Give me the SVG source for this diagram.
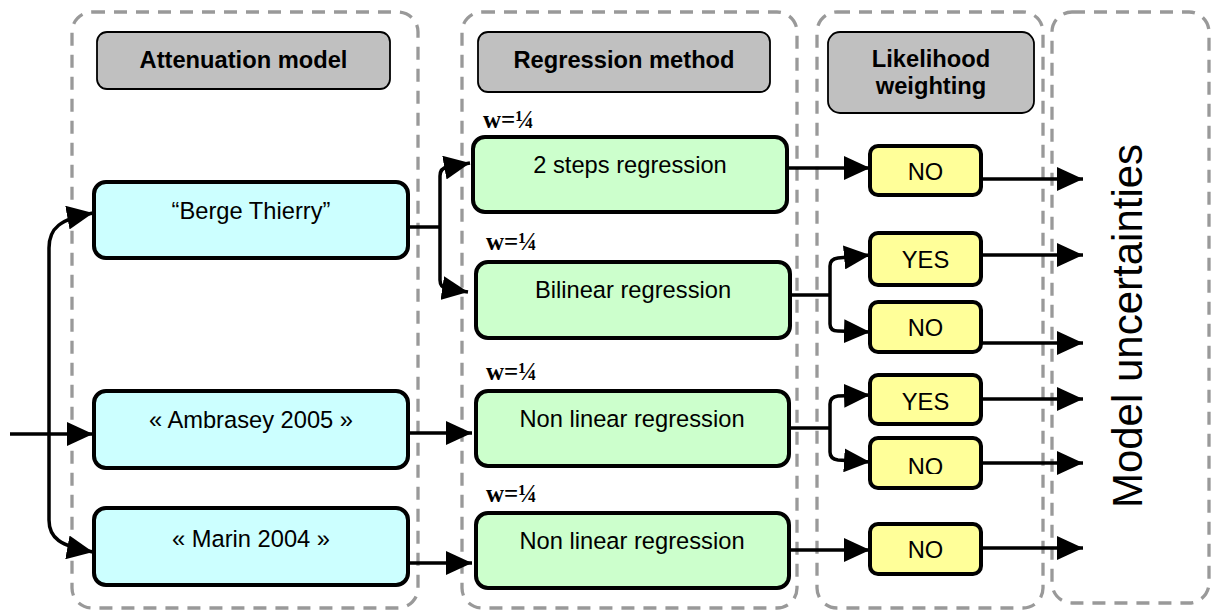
<svg xmlns="http://www.w3.org/2000/svg" width="1211" height="612" viewBox="0 0 1211 612">
<style>
.cont{fill:none;stroke:#999;stroke-width:3.3;stroke-dasharray:13 9}
.hdr{fill:#c0c0c0;stroke:#000;stroke-width:1.8}
.att{fill:#ccffff;stroke:#000;stroke-width:4}
.reg{fill:#ccffcc;stroke:#000;stroke-width:4}
.lik{fill:#ffff99;stroke:#000;stroke-width:4}
.ht{font-family:"Liberation Sans",Arial,sans-serif;font-weight:bold;font-size:23.7px;text-anchor:middle;fill:#000}
.nt{font-family:"Liberation Sans",Arial,sans-serif;font-size:23.7px;text-anchor:middle;fill:#000}
.w{font-family:"Liberation Serif","Times New Roman",serif;font-weight:bold;font-size:25px;fill:#000}
.big{font-family:"Liberation Sans",Arial,sans-serif;font-size:42px;text-anchor:middle;fill:#000}
.c{fill:none;stroke:#000;stroke-width:3.5}
.ca{fill:none;stroke:#000;stroke-width:3.5;marker-end:url(#ah)}
</style>
<defs>
<marker id="ah" markerUnits="userSpaceOnUse" markerWidth="26" markerHeight="24" refX="26" refY="12" orient="auto" viewBox="0 0 26 24">
<path d="M0,0 L26,12 L0,24 z" fill="#000"/>
</marker>
<clipPath id="clipNo3"><rect x="870" y="438" width="112" height="36"/></clipPath>
</defs>
<rect width="1211" height="612" fill="#fff"/>
<g id="containers">
<rect class="cont" x="72" y="12" width="346" height="596" rx="20"/>
<rect class="cont" x="462" y="12" width="335" height="596" rx="20"/>
<rect class="cont" x="817" y="12" width="226" height="596" rx="20"/>
<rect class="cont" x="1052" y="12" width="157" height="591" rx="20"/>
</g>
<g id="connectors">
<path class="ca" d="M10,434 H93"/>
<path class="ca" d="M49,434 V248 C49,228 60,219 93,213"/>
<path class="ca" d="M49,434 V520 C49,538 60,546 93,552"/>
<path class="c" d="M408,227 H440"/>
<path class="ca" d="M440,227 V176 Q440,168 448,167 L470,163"/>
<path class="ca" d="M440,227 V280 Q440,288 448,289 L468,292"/>
<path class="ca" d="M408,433 H472"/>
<path class="ca" d="M408,563 H472"/>
<path class="ca" d="M787,168 H870"/>
<path class="c" d="M790,295 H830"/>
<path class="ca" d="M830,295 V266 Q830,259 838,258 L870,255"/>
<path class="ca" d="M830,295 V324 Q830,331 838,331 L870,332"/>
<path class="c" d="M789,428 H830"/>
<path class="ca" d="M830,428 V404 Q830,397 838,396 L870,395"/>
<path class="ca" d="M830,428 V452 Q830,459 838,460 L870,462"/>
<path class="ca" d="M789,550 H870"/>
<path class="ca" d="M981,179 H1083"/>
<path class="ca" d="M981,255 H1083"/>
<path class="ca" d="M981,343 H1083"/>
<path class="ca" d="M981,399 H1083"/>
<path class="ca" d="M981,463 H1083"/>
<path class="ca" d="M981,548 H1083"/>
</g>
<g id="hdr-attenuation">
<rect class="hdr" x="97" y="32" width="293" height="57" rx="10"/>
<text class="ht" x="243.5" y="68">Attenuation model</text>
</g>
<g id="hdr-regression">
<rect class="hdr" x="478" y="32" width="292" height="60" rx="10"/>
<text class="ht" x="624" y="68">Regression method</text>
</g>
<g id="hdr-likelihood">
<rect class="hdr" x="828" y="32" width="206" height="81" rx="12"/>
<text class="ht" x="931" y="67">Likelihood</text>
<text class="ht" x="931" y="94">weighting</text>
</g>
<g id="att-berge">
<rect class="att" x="94" y="182" width="314" height="76" rx="12"/>
<text class="nt" x="251" y="219">“Berge Thierry”</text>
</g>
<g id="att-ambrasey">
<rect class="att" x="94" y="391" width="314" height="77" rx="12"/>
<text class="nt" x="251" y="428">« Ambrasey 2005 »</text>
</g>
<g id="att-marin">
<rect class="att" x="94" y="508" width="314" height="77" rx="12"/>
<text class="nt" x="251" y="547">« Marin 2004 »</text>
</g>
<g id="reg-2steps">
<text class="w" x="483" y="128">w=¼</text>
<rect class="reg" x="473" y="137" width="314" height="75" rx="12"/>
<text class="nt" x="630" y="173">2 steps regression</text>
</g>
<g id="reg-bilinear">
<text class="w" x="486" y="250">w=¼</text>
<rect class="reg" x="476" y="262" width="314" height="76" rx="12"/>
<text class="nt" x="633" y="298">Bilinear regression</text>
</g>
<g id="reg-nonlinear1">
<text class="w" x="486" y="380">w=¼</text>
<rect class="reg" x="476" y="391" width="313" height="75" rx="12"/>
<text class="nt" x="632" y="427">Non linear regression</text>
</g>
<g id="reg-nonlinear2">
<text class="w" x="486" y="502">w=¼</text>
<rect class="reg" x="476" y="513" width="313" height="75" rx="12"/>
<text class="nt" x="632" y="549">Non linear regression</text>
</g>
<g id="lik-no1">
<rect class="lik" x="870" y="146" width="111" height="49" rx="8"/>
<text class="nt" x="925.5" y="180">NO</text>
</g>
<g id="lik-yes1">
<rect class="lik" x="870" y="233" width="111" height="52" rx="8"/>
<text class="nt" x="925.5" y="268">YES</text>
</g>
<g id="lik-no2">
<rect class="lik" x="870" y="302" width="111" height="50" rx="8"/>
<text class="nt" x="925.5" y="336">NO</text>
</g>
<g id="lik-yes2">
<rect class="lik" x="870" y="375" width="111" height="49" rx="8"/>
<text class="nt" x="925.5" y="410">YES</text>
</g>
<g id="lik-no3">
<rect class="lik" x="870" y="438" width="111" height="50" rx="8"/>
<text class="nt" x="925.5" y="475" clip-path="url(#clipNo3)">NO</text>
</g>
<g id="lik-no4">
<rect class="lik" x="870" y="524" width="111" height="50" rx="8"/>
<text class="nt" x="925.5" y="558">NO</text>
</g>
<g id="model-uncertainties">
<text class="big" transform="translate(1142,326) rotate(-90)">Model uncertainties</text>
</g>
</svg>
